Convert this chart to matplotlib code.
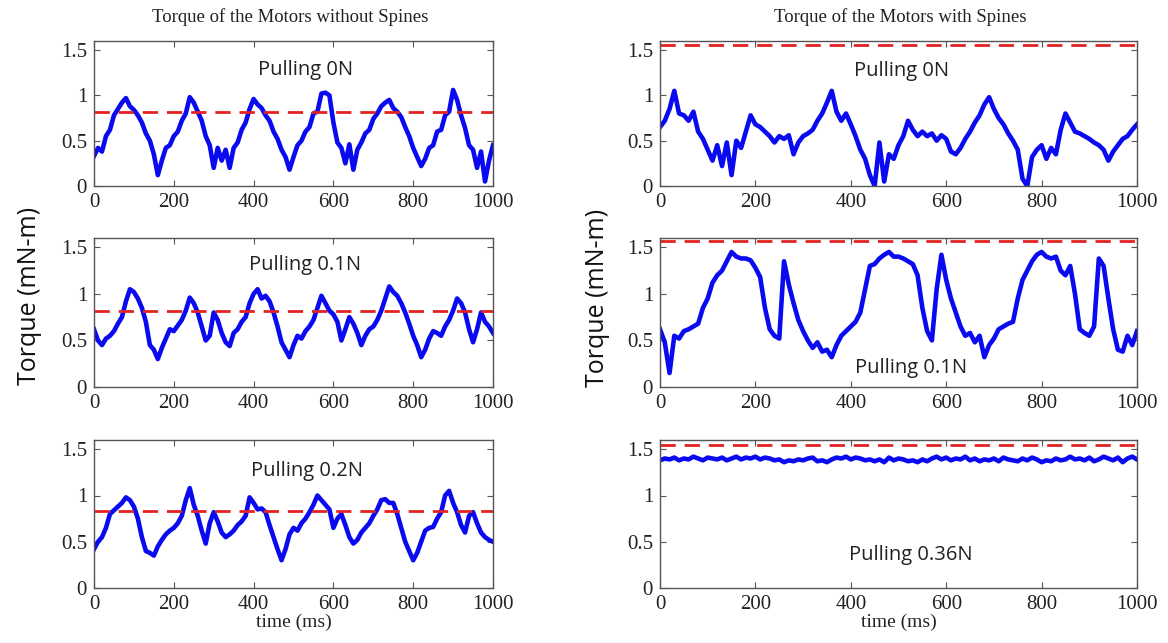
import numpy as np
import matplotlib
matplotlib.use("Agg")
import matplotlib.pyplot as plt

# ---------------- data ----------------
time_ms = list(range(0, 1001, 10))

torque_no_spines_0N = [
    0.33, 0.42, 0.38, 0.55, 0.62, 0.78, 0.85, 0.92, 0.97, 0.88,
    0.84, 0.78, 0.70, 0.58, 0.50, 0.35, 0.12, 0.28, 0.42, 0.45,
    0.55, 0.60, 0.72, 0.80, 0.98, 0.92, 0.82, 0.72, 0.55, 0.45,
    0.20, 0.42, 0.28, 0.40, 0.20, 0.42, 0.48, 0.62, 0.70, 0.85,
    0.96, 0.90, 0.86, 0.78, 0.72, 0.60, 0.52, 0.40, 0.32, 0.18,
    0.32, 0.45, 0.50, 0.60, 0.65, 0.80, 0.82, 1.02, 1.03, 1.00,
    0.70, 0.48, 0.42, 0.25, 0.46, 0.18, 0.40, 0.48, 0.58, 0.62,
    0.74, 0.80, 0.88, 0.92, 0.95, 0.86, 0.82, 0.76, 0.65, 0.55,
    0.42, 0.32, 0.22, 0.30, 0.42, 0.45, 0.60, 0.62, 0.78, 0.82,
    1.06, 0.95, 0.78, 0.64, 0.45, 0.40, 0.20, 0.38, 0.05, 0.28, 0.45]

torque_no_spines_01N = [
    0.62, 0.50, 0.45, 0.52, 0.55, 0.60, 0.68, 0.75, 0.92, 1.05,
    1.02, 0.95, 0.85, 0.70, 0.45, 0.40, 0.30, 0.42, 0.52, 0.62,
    0.60, 0.66, 0.72, 0.82, 0.96, 0.90, 0.80, 0.65, 0.50, 0.55,
    0.80, 0.72, 0.58, 0.48, 0.44, 0.58, 0.62, 0.70, 0.75, 0.90,
    1.00, 1.05, 0.95, 0.98, 0.92, 0.80, 0.65, 0.48, 0.40, 0.32,
    0.45, 0.55, 0.52, 0.60, 0.65, 0.72, 0.85, 0.98, 0.90, 0.82,
    0.78, 0.70, 0.50, 0.62, 0.75, 0.68, 0.58, 0.45, 0.55, 0.62,
    0.65, 0.72, 0.82, 0.95, 1.08, 1.02, 0.98, 0.90, 0.80, 0.68,
    0.55, 0.45, 0.32, 0.40, 0.52, 0.60, 0.58, 0.55, 0.65, 0.72,
    0.82, 0.95, 0.90, 0.80, 0.62, 0.48, 0.62, 0.80, 0.70, 0.65, 0.58]

torque_no_spines_02N = [
    0.42, 0.50, 0.55, 0.65, 0.80, 0.84, 0.88, 0.92, 0.98, 0.95,
    0.88, 0.75, 0.55, 0.40, 0.38, 0.35, 0.45, 0.52, 0.58, 0.62,
    0.65, 0.70, 0.78, 0.95, 1.08, 0.90, 0.78, 0.62, 0.48, 0.70,
    0.82, 0.72, 0.60, 0.55, 0.58, 0.62, 0.68, 0.72, 0.78, 0.98,
    0.92, 0.85, 0.86, 0.82, 0.68, 0.55, 0.42, 0.30, 0.42, 0.58,
    0.65, 0.62, 0.70, 0.75, 0.82, 0.90, 1.00, 0.95, 0.90, 0.85,
    0.65, 0.75, 0.80, 0.68, 0.55, 0.48, 0.52, 0.60, 0.65, 0.70,
    0.78, 0.85, 0.95, 0.96, 0.92, 0.92, 0.80, 0.65, 0.50, 0.40,
    0.30, 0.38, 0.50, 0.62, 0.65, 0.66, 0.75, 0.82, 1.00, 1.05,
    0.92, 0.82, 0.68, 0.60, 0.78, 0.82, 0.70, 0.60, 0.55, 0.52, 0.50]

torque_spines_0N = [
    0.65, 0.72, 0.85, 1.05, 0.80, 0.78, 0.72, 0.82, 0.60, 0.52,
    0.40, 0.28, 0.45, 0.22, 0.48, 0.12, 0.50, 0.42, 0.60, 0.78,
    0.68, 0.65, 0.60, 0.55, 0.48, 0.55, 0.52, 0.56, 0.35, 0.48,
    0.55, 0.58, 0.62, 0.72, 0.80, 0.92, 1.05, 0.82, 0.72, 0.80,
    0.68, 0.55, 0.40, 0.30, 0.12, 0.00, 0.48, 0.05, 0.35, 0.30,
    0.45, 0.55, 0.72, 0.62, 0.55, 0.60, 0.55, 0.58, 0.50, 0.56,
    0.52, 0.38, 0.35, 0.42, 0.52, 0.60, 0.70, 0.78, 0.90, 0.98,
    0.85, 0.75, 0.68, 0.58, 0.50, 0.40, 0.08, 0.00, 0.32, 0.40,
    0.45, 0.30, 0.42, 0.35, 0.62, 0.80, 0.70, 0.60, 0.58, 0.55,
    0.52, 0.48, 0.45, 0.40, 0.28, 0.38, 0.45, 0.52, 0.55, 0.62, 0.68]

torque_spines_01N = [
    0.62, 0.48, 0.15, 0.55, 0.52, 0.60, 0.62, 0.65, 0.68, 0.85,
    0.95, 1.12, 1.20, 1.25, 1.35, 1.45, 1.40, 1.38, 1.38, 1.36,
    1.28, 1.18, 0.85, 0.62, 0.55, 0.52, 1.35, 1.10, 0.90, 0.72,
    0.60, 0.50, 0.42, 0.48, 0.38, 0.40, 0.32, 0.45, 0.55, 0.60,
    0.65, 0.70, 0.80, 1.05, 1.30, 1.32, 1.38, 1.42, 1.45, 1.40,
    1.40, 1.38, 1.35, 1.32, 1.20, 0.85, 0.60, 0.50, 1.05, 1.42,
    1.15, 0.95, 0.80, 0.65, 0.55, 0.58, 0.48, 0.55, 0.32, 0.45,
    0.52, 0.62, 0.65, 0.68, 0.70, 0.95, 1.15, 1.25, 1.35, 1.42,
    1.45, 1.40, 1.38, 1.40, 1.25, 1.20, 1.30, 1.00, 0.62, 0.58,
    0.55, 0.65, 1.38, 1.30, 0.95, 0.62, 0.40, 0.38, 0.55, 0.45, 0.60]

torque_spines_036N = [
    1.38, 1.40, 1.39, 1.41, 1.38, 1.40, 1.39, 1.42, 1.40, 1.38,
    1.41, 1.40, 1.39, 1.41, 1.38, 1.40, 1.42, 1.39, 1.41, 1.40,
    1.42, 1.39, 1.41, 1.40, 1.38, 1.39, 1.36, 1.38, 1.37, 1.39,
    1.38, 1.40, 1.41, 1.37, 1.38, 1.36, 1.39, 1.41, 1.40, 1.42,
    1.39, 1.41, 1.40, 1.38, 1.39, 1.37, 1.39, 1.36, 1.41, 1.38,
    1.40, 1.39, 1.37, 1.38, 1.36, 1.39, 1.37, 1.40, 1.42, 1.39,
    1.41, 1.38, 1.40, 1.39, 1.42, 1.38, 1.40, 1.37, 1.39, 1.38,
    1.40, 1.37, 1.41, 1.39, 1.38, 1.37, 1.40, 1.38, 1.41, 1.39,
    1.36, 1.38, 1.37, 1.40, 1.38, 1.39, 1.42, 1.39, 1.40, 1.38,
    1.41, 1.37, 1.39, 1.42, 1.40, 1.38, 1.41, 1.36, 1.40, 1.42, 1.39]

limit_no_spines = [0.82, 0.82, 0.83]
limit_spines = [1.56, 1.57, 1.55]
labels_no_spines = ["Pulling 0N", "Pulling 0.1N", "Pulling 0.2N"]
labels_spines = ["Pulling 0N", "Pulling 0.1N", "Pulling 0.36N"]
x_ticks = [0, 200, 400, 600, 800, 1000]
y_ticks = [0, 0.5, 1, 1.5]
y_tick_labels = ["0", "0.5", "1", "1.5"]

# ---------------- figure ----------------
W, H = 1168, 643
fig = plt.figure(figsize=(W / 100, H / 100), dpi=100)

SERIF = ["Liberation Serif", "DejaVu Serif"]
SANS = ["Open Sans", "DejaVu Sans"]

def ax_rect(x0, x1, ytop, ybot):
    return [x0 / W, 1 - ybot / H, (x1 - x0) / W, (ybot - ytop) / H]

rows = [(41, 186), (238, 387), (440, 588)]
left_x = (94, 493)
right_x = (660, 1137)

left_series = [torque_no_spines_0N, torque_no_spines_01N, torque_no_spines_02N]
right_series = [torque_spines_0N, torque_spines_01N, torque_spines_036N]
left_label_pos = [(0.53, 0.80), (0.53, 0.82), (0.535, 0.79)]
right_label_pos = [(0.507, 0.79), (0.526, 0.125), (0.526, 0.225)]

def style(ax):
    ax.set_xlim(0, 1000)
    ax.set_ylim(0, 1.6)
    ax.set_xticks(x_ticks)
    ax.set_yticks(y_ticks)
    ax.set_yticklabels(y_tick_labels)
    ax.tick_params(direction="in", top=True, right=True, length=4,
                   width=0.8, color="#555555", labelsize=15, pad=5)
    for lab in ax.get_xticklabels() + ax.get_yticklabels():
        lab.set_fontfamily(SERIF)
        lab.set_color("#222222")
    for s in ax.spines.values():
        s.set_color("#555555")
        s.set_linewidth(1.0)

for i, (yt, yb) in enumerate(rows):
    for col, (xs, series, limits, labels, lpos) in enumerate([
            (left_x, left_series, limit_no_spines, labels_no_spines, left_label_pos),
            (right_x, right_series, limit_spines, labels_spines, right_label_pos)]):
        ax = fig.add_axes(ax_rect(xs[0], xs[1], yt, yb))
        ax.plot(time_ms, series[i], color="#0a0af0", lw=3.3, solid_joinstyle="round")
        ax.axhline(limits[i], color="#e32222", lw=2.0, dashes=(5.5, 3.2))
        ax.text(lpos[i][0], lpos[i][1], labels[i], transform=ax.transAxes,
                ha="center", va="center", fontsize=14.5, family=SANS, color="#222222")
        style(ax)
        if i == 2:
            ax.set_xlabel("time (ms)", family=SERIF, fontsize=14, labelpad=0, color="#222222")

fig.text(290 / W, 1 - 17 / H, "Torque of the Motors without Spines", ha="center",
         va="center", family=SERIF, fontsize=13.5, color="#222222")
fig.text(900 / W, 1 - 17 / H, "Torque of the Motors with Spines", ha="center",
         va="center", family=SERIF, fontsize=13.5, color="#222222")
fig.text(30 / W, 1 - 296 / H, "Torque (mN-m)", rotation=90, ha="center", va="center",
         family=SANS, fontsize=18, color="#111111")
fig.text(598 / W, 1 - 298 / H, "Torque (mN-m)", rotation=90, ha="center", va="center",
         family=SANS, fontsize=18, color="#111111")

fig.savefig("out.png", dpi=100)
